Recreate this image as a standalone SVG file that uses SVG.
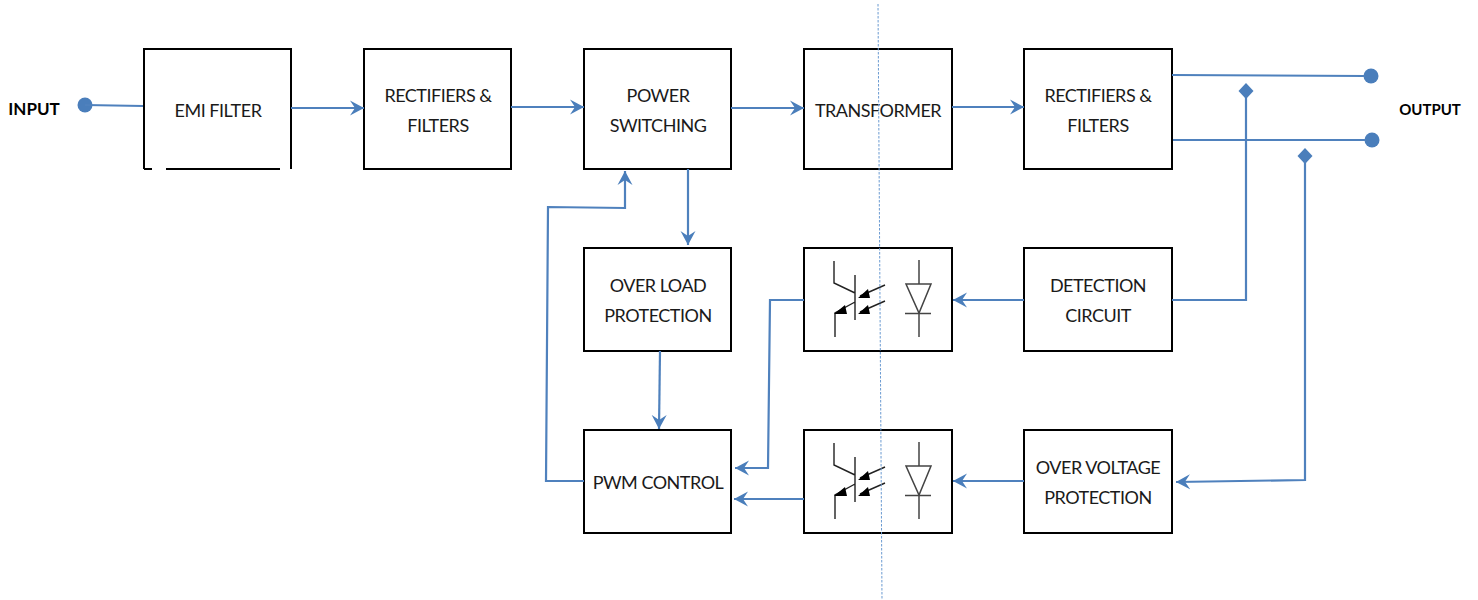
<svg xmlns="http://www.w3.org/2000/svg" xmlns:xlink="http://www.w3.org/1999/xlink" width="1478" height="600" viewBox="0 0 1478 600">
<style>
.box{fill:#fff;stroke:#000;stroke-width:2}
.t{font-family:Lato,"Open Sans",sans-serif;font-size:18px;letter-spacing:-0.5px;fill:#1a1a1a;text-anchor:middle}
.b{font-family:Lato,"Open Sans",sans-serif;font-size:17px;font-weight:700;fill:#000;text-anchor:middle}
.c{fill:none;stroke:#4f81bd;stroke-width:2.200}
.a{fill:none;stroke:#4f81bd;stroke-width:2.200;marker-end:url(#arr)}
.s{fill:none;stroke:#222;stroke-width:1.400}
.g{fill:none;stroke:#444;stroke-width:1.500}
.k{fill:#000}
.dot{fill:#4a7ebb}
</style>
<defs>
<marker id="arr" markerWidth="16" markerHeight="16" refX="14" refY="8" orient="auto" markerUnits="userSpaceOnUse">
<path d="M0,0.500L14,8L0,15.500L5,8Z" fill="#4a7ebb"/>
</marker>
<g id="opto">
<path class="s" d="M834,261V283L855,293M855,275V320M855,302L835,313V337M885,285L860,296M885,301L860,312"/>
<path class="k" d="M834,314L845,305L847,314Z M858,298L868,289L870,298Z M858,314L868,305L870,314Z"/>
<path class="g" d="M919,260V284M906,284H931L919,313ZM905,313.500H931M919,313V337"/>
</g>
</defs>
<g id="node-emi">
<path fill="none" stroke="#000" stroke-width="2" d="M144,169V49H291V169M144,169H152M166,169H280"/>
<text class="t" x="218" y="117">EMI FILTER</text>
</g>
<g id="node-rect1"><rect class="box" x="364" y="49" width="147" height="120"/><text class="t" x="438" y="102">RECTIFIERS &amp;</text><text class="t" x="438" y="132">FILTERS</text></g>
<g id="node-power"><rect class="box" x="584" y="49" width="147" height="120"/><text class="t" x="658" y="102">POWER</text><text class="t" x="658" y="132">SWITCHING</text></g>
<g id="node-trans"><rect class="box" x="804" y="49" width="148" height="120"/><text class="t" x="878" y="117">TRANSFORMER</text></g>
<g id="node-rect2"><rect class="box" x="1024" y="49" width="148" height="120"/><text class="t" x="1098" y="102">RECTIFIERS &amp;</text><text class="t" x="1098" y="132">FILTERS</text></g>
<g id="node-overload"><rect class="box" x="584" y="248" width="147" height="103"/><text class="t" x="658" y="292">OVER LOAD</text><text class="t" x="658" y="322">PROTECTION</text></g>
<g id="node-opto1"><rect class="box" x="804" y="248" width="148" height="103"/><use xlink:href="#opto" href="#opto"/></g>
<g id="node-detect"><rect class="box" x="1024" y="248" width="148" height="103"/><text class="t" x="1098" y="292">DETECTION</text><text class="t" x="1098" y="322">CIRCUIT</text></g>
<g id="node-pwm"><rect class="box" x="584" y="430" width="147" height="103"/><text class="t" x="658" y="489">PWM CONTROL</text></g>
<g id="node-opto2"><rect class="box" x="804" y="430" width="148" height="103"/><use xlink:href="#opto" href="#opto" y="182"/></g>
<g id="node-ovp"><rect class="box" x="1024" y="430" width="148" height="103"/><text class="t" x="1098" y="474">OVER VOLTAGE</text><text class="t" x="1098" y="504">PROTECTION</text></g>
<g id="node-input"><circle class="dot" cx="85" cy="105" r="7.500"/><text class="b" x="34" y="115">INPUT</text></g>
<g id="node-out1"><circle class="dot" cx="1371" cy="76" r="7.500"/></g>
<g id="node-out2"><circle class="dot" cx="1372" cy="140" r="7.500"/></g>
<text class="b" x="1430" y="115" style="font-size:15px">OUTPUT</text>
<path id="divider" d="M878,4L882,600" fill="none" stroke="#6b9bd2" stroke-width="1" stroke-dasharray="2.500 1.500"/>
<g id="connectors">
<path class="c" d="M85,105L143,106"/>
<path class="a" d="M291,108H364"/>
<path class="a" d="M511,107H584"/>
<path class="a" d="M731,108H804"/>
<path class="a" d="M952,107H1024"/>
<path class="c" d="M1172,75L1365,76"/>
<path class="c" d="M1173,140H1366"/>
<path class="c" d="M1172,300H1246V95"/>
<path class="dot" d="M1246,83L1253.500,91L1246,99L1238.500,91Z"/>
<path class="dot" d="M1305,148L1312.500,156L1305,164L1297.500,156Z"/>
<path class="a" d="M1305,160V480L1176,482"/>
<path class="a" d="M688,169L688,245"/>
<path class="a" d="M660,351L659,429"/>
<path class="a" d="M584,481H546L548,207L625,208V171"/>
<path class="a" d="M804,300H770L768,468L735,468"/>
<path class="a" d="M804,499H734"/>
<path class="a" d="M1024,300H953"/>
<path class="a" d="M1024,481H953"/>
</g>
</svg>
